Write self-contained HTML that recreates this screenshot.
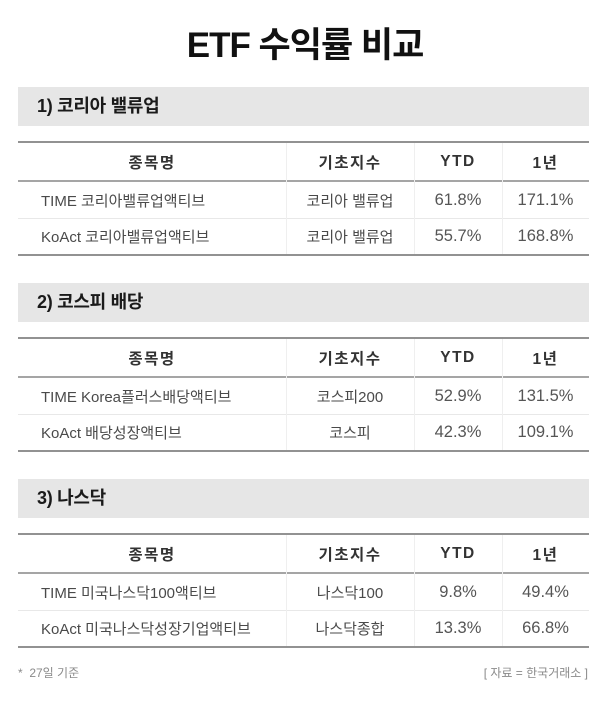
<!DOCTYPE html>
<html>
<head>
<meta charset="utf-8">
<style>
  html, body { margin:0; padding:0; }
  body { width:600px; height:702px; background:#fff; position:relative; overflow:hidden;
         font-family:"Liberation Sans","Noto Sans CJK KR",sans-serif; color:#333; }
  .title { position:absolute; left:5px; width:600px; top:20px; height:52px; line-height:52px;
           text-align:center; font-size:35px; font-weight:bold; color:#111; letter-spacing:-1px; }
  .band { position:absolute; left:18px; width:571px; height:39px; background:#e6e6e6; }
  .band span { position:absolute; left:19px; top:0; line-height:39px; font-size:18px; font-weight:bold; color:#1a1a1a; letter-spacing:-0.3px; }
  .hline { position:absolute; left:18px; width:571px; }
  .thick { height:2px; background:#929292; }
  .mid { height:2px; background:#a5a5a5; }
  .sep { height:1px; background:#e8e8e8; }
  .vline { position:absolute; width:1px; background:#efefef; }
  .cell { position:absolute; display:flex; align-items:center; justify-content:center; white-space:nowrap; }
  .hd { font-size:15.5px; font-weight:bold; color:#333; letter-spacing:1.5px; }
  .name { justify-content:flex-start; padding-left:23px; font-size:15px; color:#4a4a4a; }
  .idx { font-size:15px; color:#4a4a4a; }
  .num { font-size:16.5px; color:#555; }
  .foot { position:absolute; top:664px; font-size:12px; color:#8a8a8a; line-height:18px; }
</style>
</head>
<body>
<div class="title">ETF 수익률 비교</div>

<!-- Section 1 -->
<div class="band" style="top:87px"><span>1) 코리아 밸류업</span></div>
<div class="hline thick" style="top:141px"></div>
<div class="hline mid" style="top:180px"></div>
<div class="hline sep" style="top:218px"></div>
<div class="hline thick" style="top:254px"></div>
<div class="vline" style="left:286px;top:143px;height:111px"></div>
<div class="vline" style="left:414px;top:143px;height:111px"></div>
<div class="vline" style="left:502px;top:143px;height:111px"></div>
<div class="cell hd" style="left:18px;width:268px;top:143px;height:37px">종목명</div>
<div class="cell hd" style="left:286px;width:128px;top:143px;height:37px">기초지수</div>
<div class="cell hd" style="left:414px;width:88px;top:143px;height:37px">YTD</div>
<div class="cell hd" style="left:502px;width:87px;top:143px;height:37px">1년</div>
<div class="cell name" style="left:18px;width:245px;top:182px;height:36px">TIME 코리아밸류업액티브</div>
<div class="cell idx" style="left:286px;width:128px;top:182px;height:36px">코리아 밸류업</div>
<div class="cell num" style="left:414px;width:88px;top:182px;height:36px">61.8%</div>
<div class="cell num" style="left:502px;width:87px;top:182px;height:36px">171.1%</div>
<div class="cell name" style="left:18px;width:245px;top:219px;height:35px">KoAct 코리아밸류업액티브</div>
<div class="cell idx" style="left:286px;width:128px;top:219px;height:35px">코리아 밸류업</div>
<div class="cell num" style="left:414px;width:88px;top:219px;height:35px">55.7%</div>
<div class="cell num" style="left:502px;width:87px;top:219px;height:35px">168.8%</div>

<!-- Section 2 -->
<div class="band" style="top:283px"><span>2) 코스피 배당</span></div>
<div class="hline thick" style="top:337px"></div>
<div class="hline mid" style="top:376px"></div>
<div class="hline sep" style="top:414px"></div>
<div class="hline thick" style="top:450px"></div>
<div class="vline" style="left:286px;top:339px;height:111px"></div>
<div class="vline" style="left:414px;top:339px;height:111px"></div>
<div class="vline" style="left:502px;top:339px;height:111px"></div>
<div class="cell hd" style="left:18px;width:268px;top:339px;height:37px">종목명</div>
<div class="cell hd" style="left:286px;width:128px;top:339px;height:37px">기초지수</div>
<div class="cell hd" style="left:414px;width:88px;top:339px;height:37px">YTD</div>
<div class="cell hd" style="left:502px;width:87px;top:339px;height:37px">1년</div>
<div class="cell name" style="left:18px;width:245px;top:378px;height:36px">TIME Korea플러스배당액티브</div>
<div class="cell idx" style="left:286px;width:128px;top:378px;height:36px">코스피200</div>
<div class="cell num" style="left:414px;width:88px;top:378px;height:36px">52.9%</div>
<div class="cell num" style="left:502px;width:87px;top:378px;height:36px">131.5%</div>
<div class="cell name" style="left:18px;width:245px;top:415px;height:35px">KoAct 배당성장액티브</div>
<div class="cell idx" style="left:286px;width:128px;top:415px;height:35px">코스피</div>
<div class="cell num" style="left:414px;width:88px;top:415px;height:35px">42.3%</div>
<div class="cell num" style="left:502px;width:87px;top:415px;height:35px">109.1%</div>

<!-- Section 3 -->
<div class="band" style="top:479px"><span>3) 나스닥</span></div>
<div class="hline thick" style="top:533px"></div>
<div class="hline mid" style="top:572px"></div>
<div class="hline sep" style="top:610px"></div>
<div class="hline thick" style="top:646px"></div>
<div class="vline" style="left:286px;top:535px;height:111px"></div>
<div class="vline" style="left:414px;top:535px;height:111px"></div>
<div class="vline" style="left:502px;top:535px;height:111px"></div>
<div class="cell hd" style="left:18px;width:268px;top:535px;height:37px">종목명</div>
<div class="cell hd" style="left:286px;width:128px;top:535px;height:37px">기초지수</div>
<div class="cell hd" style="left:414px;width:88px;top:535px;height:37px">YTD</div>
<div class="cell hd" style="left:502px;width:87px;top:535px;height:37px">1년</div>
<div class="cell name" style="left:18px;width:245px;top:574px;height:36px">TIME 미국나스닥100액티브</div>
<div class="cell idx" style="left:286px;width:128px;top:574px;height:36px">나스닥100</div>
<div class="cell num" style="left:414px;width:88px;top:574px;height:36px">9.8%</div>
<div class="cell num" style="left:502px;width:87px;top:574px;height:36px">49.4%</div>
<div class="cell name" style="left:18px;width:245px;top:611px;height:35px">KoAct 미국나스닥성장기업액티브</div>
<div class="cell idx" style="left:286px;width:128px;top:611px;height:35px">나스닥종합</div>
<div class="cell num" style="left:414px;width:88px;top:611px;height:35px">13.3%</div>
<div class="cell num" style="left:502px;width:87px;top:611px;height:35px">66.8%</div>

<div class="foot" style="left:18px">*&nbsp; 27일 기준</div>
<div class="foot" style="right:12px">[ 자료 = 한국거래소 ]</div>
</body>
</html>
